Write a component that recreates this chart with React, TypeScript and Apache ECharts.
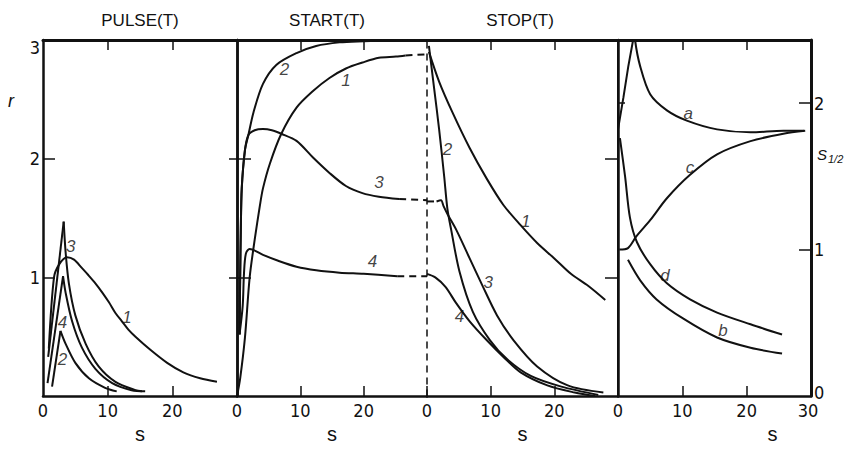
import React, { useEffect, useRef } from "react";
import * as echarts from "echarts";

// ---------------- data ----------------
const panelTitles = ["PULSE(T)", "START(T)", "STOP(T)"];
const sTickLabels = [0, 10, 20];
const sTickLabelsLast = [0, 10, 20, 30];
const rTickLabels = [1, 2, 3];
const halfTickLabels = [0, 1, 2];

// PULSE(T): [s, r]
const pulse1 = [[0.9, 0.4], [1.7, 1.0], [2.5, 1.11], [3.7, 1.17], [4.8, 1.15], [6.0, 1.08], [7.0, 1.02], [8.1, 0.95], [9.2, 0.87], [10.2, 0.79], [11.2, 0.7], [12.2, 0.63], [13.2, 0.56], [14.3, 0.5], [16.6, 0.39], [19.2, 0.28], [21.7, 0.2], [24.3, 0.15], [26.9, 0.12]];
const pulse2 = [[1.4, 0.08], [2.7, 0.55], [3.5, 0.44], [5.0, 0.28], [7.1, 0.15], [9.6, 0.07], [11.4, 0.04]];
const pulse3 = [[0.8, 0.33], [3.2, 1.47], [3.5, 1.21], [4.0, 0.95], [5.0, 0.68], [6.6, 0.44], [8.6, 0.25], [11.2, 0.12], [14.3, 0.05], [15.3, 0.04]];
const pulse4 = [[0.7, 0.11], [3.1, 1.01], [3.5, 0.87], [4.5, 0.63], [6.0, 0.41], [8.1, 0.23], [10.7, 0.11], [13.7, 0.05], [15.8, 0.04]];

// START(T): [s, r]
const start1 = [[0, 0], [0.5, 0.15], [1.25, 0.49], [2.0, 1.0], [2.8, 1.32], [3.6, 1.6], [4.1, 1.75], [5.2, 1.96], [7.0, 2.21], [9.4, 2.43], [12, 2.57], [14.6, 2.68], [17.2, 2.76], [19.8, 2.81], [22.4, 2.85], [25.1, 2.86], [26.6, 2.87]];
const start1Dash = [[26.6, 2.87], [30, 2.88]];
const start2 = [[0.4, 0.52], [0.5, 1.0], [0.6, 1.4], [0.75, 1.75], [1.25, 2.07], [1.8, 2.2], [2.6, 2.39], [4.1, 2.63], [6.2, 2.79], [9.4, 2.89], [12.5, 2.95], [16.2, 2.98], [20, 2.99], [25, 3.0]];
const start2Dash = [[25, 3.0], [30, 3.0]];
const start3 = [[0.4, 0.52], [0.5, 1.0], [0.6, 1.4], [0.75, 1.75], [1.25, 2.07], [1.8, 2.2], [2.8, 2.24], [4.1, 2.25], [5.5, 2.24], [7.0, 2.21], [9.4, 2.15], [12, 2.01], [14.6, 1.88], [17.2, 1.77], [19.8, 1.71], [22.4, 1.68], [25.6, 1.66]];
const start3Dash = [[25.6, 1.66], [30, 1.65]];
const start4 = [[0.4, 0.52], [0.9, 0.76], [1.1, 1.03], [1.4, 1.2], [2.0, 1.24], [4.1, 1.19], [6.5, 1.14], [9.4, 1.09], [12.5, 1.06], [16.2, 1.04], [20, 1.03], [25.3, 1.01]];
const start4Dash = [[25.3, 1.01], [30, 1.01]];

// STOP(T): [s, r]
const stop1 = [[0.3, 2.9], [1.9, 2.65], [4, 2.39], [6.7, 2.09], [9.4, 1.83], [12, 1.61], [14.7, 1.44], [17.3, 1.29], [20, 1.16], [22.6, 1.03], [25.3, 0.93], [28, 0.81]];
const stop2 = [[0.3, 2.95], [1.1, 2.6], [1.9, 2.25], [2.7, 1.85], [3.2, 1.58], [3.8, 1.4], [5.1, 1.05], [7.2, 0.71], [9.9, 0.47], [12.6, 0.31], [16.3, 0.17], [21.1, 0.08], [26.9, 0.01]];
const stop3Dash = [[0, 1.64], [1.5, 1.64]];
const stop3 = [[1.5, 1.64], [2.2, 1.65], [2.6, 1.6], [3.25, 1.53], [4.6, 1.4], [6.7, 1.16], [8.8, 0.92], [11, 0.68], [13.6, 0.47], [17.3, 0.25], [22.1, 0.09], [27.7, 0.03]];
const stop4 = [[0, 1.03], [1.3, 1.0], [2.9, 0.92], [4.5, 0.79], [6.7, 0.63], [9.4, 0.47], [12, 0.33], [14.7, 0.2], [18.9, 0.09], [23.2, 0.03], [26.4, 0.0]];

// S_1/2 panel: [s, S]
const halfA = [[0, 1.82], [0.85, 2.04], [1.6, 2.25], [2.35, 2.43], [2.5, 2.56], [2.65, 2.43], [3.45, 2.25], [5.0, 2.06], [7.6, 1.95], [10.7, 1.88], [15.4, 1.82], [20.6, 1.8], [25.7, 1.81], [28.9, 1.81]];
const halfB = [[1.55, 0.93], [3.45, 0.79], [6.0, 0.66], [10.1, 0.53], [15.4, 0.4], [20.6, 0.33], [25.5, 0.29]];
const halfC = [[0.2, 1.0], [1.55, 1.01], [2.85, 1.09], [5.0, 1.2], [7.6, 1.35], [11.2, 1.51], [15.4, 1.65], [20.6, 1.74], [25.7, 1.79], [29.1, 1.81]];
const halfD = [[0.3, 1.76], [1.1, 1.5], [1.85, 1.22], [2.95, 1.05], [5.0, 0.9], [7.6, 0.77], [11.2, 0.66], [15.4, 0.57], [20.6, 0.49], [25.5, 0.42]];

// curve labels: [text, s, value]
const pulseLabels = [["3", 4.3, 1.26], ["1", 13.0, 0.66], ["4", 3.0, 0.62], ["2", 3.0, 0.31]];
const startLabels = [["2", 7.5, 2.75], ["1", 17.2, 2.66], ["3", 22.4, 1.8], ["4", 21.4, 1.13]];
const stopLabels = [["2", 3.2, 2.08], ["1", 15.5, 1.47], ["3", 9.6, 0.96], ["4", 5.1, 0.67]];
const halfLabels = [["a", 10.9, 1.93], ["c", 11.2, 1.56], ["d", 7.3, 0.82], ["b", 16.3, 0.45]];

// ---------------- styling ----------------
const INK = "#111";
const NUM_FONT = '"Liberation Sans Narrow", "DejaVu Sans Condensed", "Liberation Sans", Arial, sans-serif';
const TXT_FONT = '"Liberation Sans", Arial, sans-serif';

const grids = [
  { left: 43, top: 40, width: 194, height: 375 },
  { left: 237, top: 40, width: 190, height: 375 },
  { left: 427, top: 40, width: 191, height: 375 },
  { left: 618, top: 40, width: 193, height: 375 },
];
const bottomTicks = [[10, 20], [10, 20], [0, 10, 20], [10, 20]];
const topTicks = [[10, 20], [10, 20], [10, 20], [10, 20]];
const xLabelSets = [sTickLabels, sTickLabels, sTickLabels, sTickLabelsLast];

function peakSplit(d: number[][]) {
  let k = 0;
  d.forEach((p, i) => {
    if (p[1] > d[k][1]) k = i;
  });
  return [d.slice(0, k + 1), d.slice(k)];
}

function line(data: number[][], xi: number, yi: number, opt: any = {}) {
  return {
    type: "line",
    data,
    xAxisIndex: xi,
    yAxisIndex: yi,
    showSymbol: false,
    symbol: "none",
    smooth: opt.smooth === undefined ? 0.3 : opt.smooth,
    silent: true,
    lineStyle: { color: INK, width: 2, type: opt.dashed ? [7, 5] : "solid" },
    z: 3,
  };
}

function peaked(data: number[][], xi: number, yi: number) {
  const [up, down] = peakSplit(data);
  return [line(up, xi, yi, { smooth: false }), line(down, xi, yi)];
}

function labelSeries(list: any[], xi: number, yi: number) {
  return {
    type: "scatter",
    xAxisIndex: xi,
    yAxisIndex: yi,
    symbolSize: 1,
    silent: true,
    itemStyle: { color: "rgba(0,0,0,0)" },
    data: list.map(([t, s, v]) => ({ name: t, value: [s, v] })),
    label: {
      show: true,
      position: "inside",
      formatter: "{b}",
      color: INK,
      fontSize: 17,
      fontStyle: "italic",
      fontFamily: TXT_FONT,
    },
    z: 4,
  };
}

function buildOption() {
  const xAxis: any[] = [];
  grids.forEach((g, i) => {
    const max = 30;
    xAxis.push({
      type: "value",
      gridIndex: i,
      min: 0,
      max,
      position: "bottom",
      axisLine: { show: true, onZero: false, lineStyle: { color: INK, width: 2.5 } },
      axisTick: { show: true, inside: true, length: 10, customValues: bottomTicks[i], lineStyle: { color: INK, width: 1.5 } },
      axisLabel: {
        show: true, customValues: xLabelSets[i], color: INK, fontSize: 18, fontFamily: NUM_FONT, margin: 5,
        formatter: (v: number) => (v === 30 ? "{l|30}" : String(v)),
        rich: { l: { fontSize: 18, fontFamily: NUM_FONT, color: INK, padding: [0, 6, 0, 0] } },
      },
      splitLine: { show: false },
      name: "s",
      nameLocation: "middle",
      nameGap: 18,
      nameTextStyle: { color: INK, fontSize: 20, fontFamily: TXT_FONT, padding: i === 3 ? [0, 0, 0, 116] : 0 },
    });
    xAxis.push({
      type: "value",
      gridIndex: i,
      min: 0,
      max,
      position: "top",
      axisLine: { show: true, onZero: false, lineStyle: { color: INK, width: 3 } },
      axisTick: { show: true, inside: true, length: 10, customValues: topTicks[i], lineStyle: { color: INK, width: 1.5 } },
      axisLabel: { show: false },
      splitLine: { show: false },
    });
  });

  const rBase = { type: "value", min: 0, max: 3, splitLine: { show: false } };
  const yAxis: any[] = [
    // 0: pulse left
    {
      ...rBase, gridIndex: 0, position: "left",
      axisLine: { show: true, onZero: false, lineStyle: { color: INK, width: 2.5 } },
      axisTick: { show: true, inside: true, length: 12, customValues: [1, 2], lineStyle: { color: INK, width: 1.5 } },
      axisLabel: {
        show: true, customValues: rTickLabels, color: INK, fontSize: 18, fontFamily: NUM_FONT, margin: 3,
        formatter: (v: number) => (v === 3 ? "{t|3}" : String(v)),
        rich: { t: { fontSize: 18, fontFamily: NUM_FONT, color: INK, padding: [14, 0, 0, 0] } },
      },
    },
    // 1: pulse right
    {
      ...rBase, gridIndex: 0, position: "right",
      axisLine: { show: true, onZero: false, lineStyle: { color: INK, width: 2.5 } },
      axisTick: { show: true, inside: true, length: 8, customValues: [1, 2], lineStyle: { color: INK, width: 1.5 } },
      axisLabel: { show: false },
    },
    // 2: start left
    {
      ...rBase, gridIndex: 1, position: "left",
      axisLine: { show: true, onZero: false, lineStyle: { color: INK, width: 2.5 } },
      axisTick: { show: true, inside: true, length: 14, customValues: [1, 2], lineStyle: { color: INK, width: 1.5 } },
      axisLabel: { show: false },
    },
    // 3: start right (dashed joint)
    {
      ...rBase, gridIndex: 1, position: "right",
      axisLine: { show: true, onZero: false, lineStyle: { color: INK, width: 1.5, type: [6, 6] } },
      axisTick: { show: false },
      axisLabel: { show: false },
    },
    // 4: stop right
    {
      ...rBase, gridIndex: 2, position: "right",
      axisLine: { show: true, onZero: false, lineStyle: { color: INK, width: 2 } },
      axisTick: { show: true, inside: true, length: 13, customValues: [1, 2], lineStyle: { color: INK, width: 1.5 } },
      axisLabel: { show: false },
    },
    // 5: S1/2 left
    {
      type: "value", min: 0, max: 2.43, gridIndex: 3, position: "left", splitLine: { show: false },
      axisLine: { show: true, onZero: false, lineStyle: { color: INK, width: 2.5 } },
      axisTick: { show: true, inside: true, length: 7, customValues: [2], lineStyle: { color: INK, width: 1.5 } },
      axisLabel: { show: false },
    },
    // 6: S1/2 right
    {
      type: "value", min: 0, max: 2.43, gridIndex: 3, position: "right", splitLine: { show: false },
      axisLine: { show: true, onZero: false, lineStyle: { color: INK, width: 3 } },
      axisTick: { show: true, inside: true, length: 12, customValues: [1, 2], lineStyle: { color: INK, width: 1.5 } },
      axisLabel: {
        show: true, customValues: halfTickLabels, color: INK, fontSize: 18, fontFamily: NUM_FONT, margin: 3,
        formatter: (v: number) => (v === 0 ? "{u|0}" : String(v)),
        rich: { u: { fontSize: 18, fontFamily: NUM_FONT, color: INK, padding: [0, 0, 8, 0] } },
      },
    },
  ];

  const series: any[] = [
    line(pulse1, 0, 0),
    ...peaked(pulse2, 0, 0),
    ...peaked(pulse3, 0, 0),
    ...peaked(pulse4, 0, 0),
    labelSeries(pulseLabels, 0, 0),

    line(start1, 2, 2),
    line(start1Dash, 2, 2, { dashed: true, smooth: false }),
    line(start2, 2, 2),
    line(start2Dash, 2, 2, { dashed: true, smooth: false }),
    line(start3, 2, 2),
    line(start3Dash, 2, 2, { dashed: true, smooth: false }),
    line(start4, 2, 2),
    line(start4Dash, 2, 2, { dashed: true, smooth: false }),
    labelSeries(startLabels, 2, 2),

    line(stop1, 4, 4),
    line(stop2, 4, 4),
    line(stop3Dash, 4, 4, { dashed: true, smooth: false }),
    line(stop3, 4, 4),
    line(stop4, 4, 4),
    labelSeries(stopLabels, 4, 4),

    ...peaked(halfA, 6, 6),
    line(halfB, 6, 6),
    line(halfC, 6, 6),
    line(halfD, 6, 6),
    labelSeries(halfLabels, 6, 6),
  ];

  const titleX = [140, 327, 520];
  const graphic: any[] = panelTitles.map((t, i) => ({
    type: "text",
    x: titleX[i],
    y: 20,
    silent: true,
    style: {
      text: t, fill: INK, fontSize: 17, fontFamily: TXT_FONT,
      align: "center", verticalAlign: "middle", textAlign: "center", textVerticalAlign: "middle",
    },
  }));
  graphic.push({
    type: "text", x: 11, y: 101, silent: true,
    style: { text: "r", fill: INK, fontSize: 18, fontStyle: "italic", fontFamily: TXT_FONT, align: "center", verticalAlign: "middle", textAlign: "center", textVerticalAlign: "middle" },
  });
  graphic.push({
    type: "text", x: 817, y: 154, silent: true,
    style: {
      text: "{s|S}{b|1/2}", fill: INK, align: "left", verticalAlign: "middle", textAlign: "left", textVerticalAlign: "middle",
      rich: {
        s: { fontSize: 15, fontStyle: "italic", fontFamily: TXT_FONT, fill: INK, color: INK },
        b: { fontSize: 11, fontStyle: "italic", fontFamily: TXT_FONT, fill: INK, color: INK, padding: [9, 0, 0, 1] },
      },
    },
  });

  return {
    animation: false,
    backgroundColor: "#fff",
    grid: grids.map((g) => ({ ...g, containLabel: false })),
    xAxis,
    yAxis,
    series,
    graphic,
  };
}

export default function App() {
  const ref = useRef<HTMLDivElement>(null);
  useEffect(() => {
    if (!ref.current) return;
    const chart = echarts.init(ref.current, undefined, { renderer: "svg" });
    chart.setOption(buildOption() as any);
    return () => chart.dispose();
  }, []);
  return <div ref={ref} style={{ position: "absolute", left: 0, top: 0, width: 856, height: 449 }} />;
}
